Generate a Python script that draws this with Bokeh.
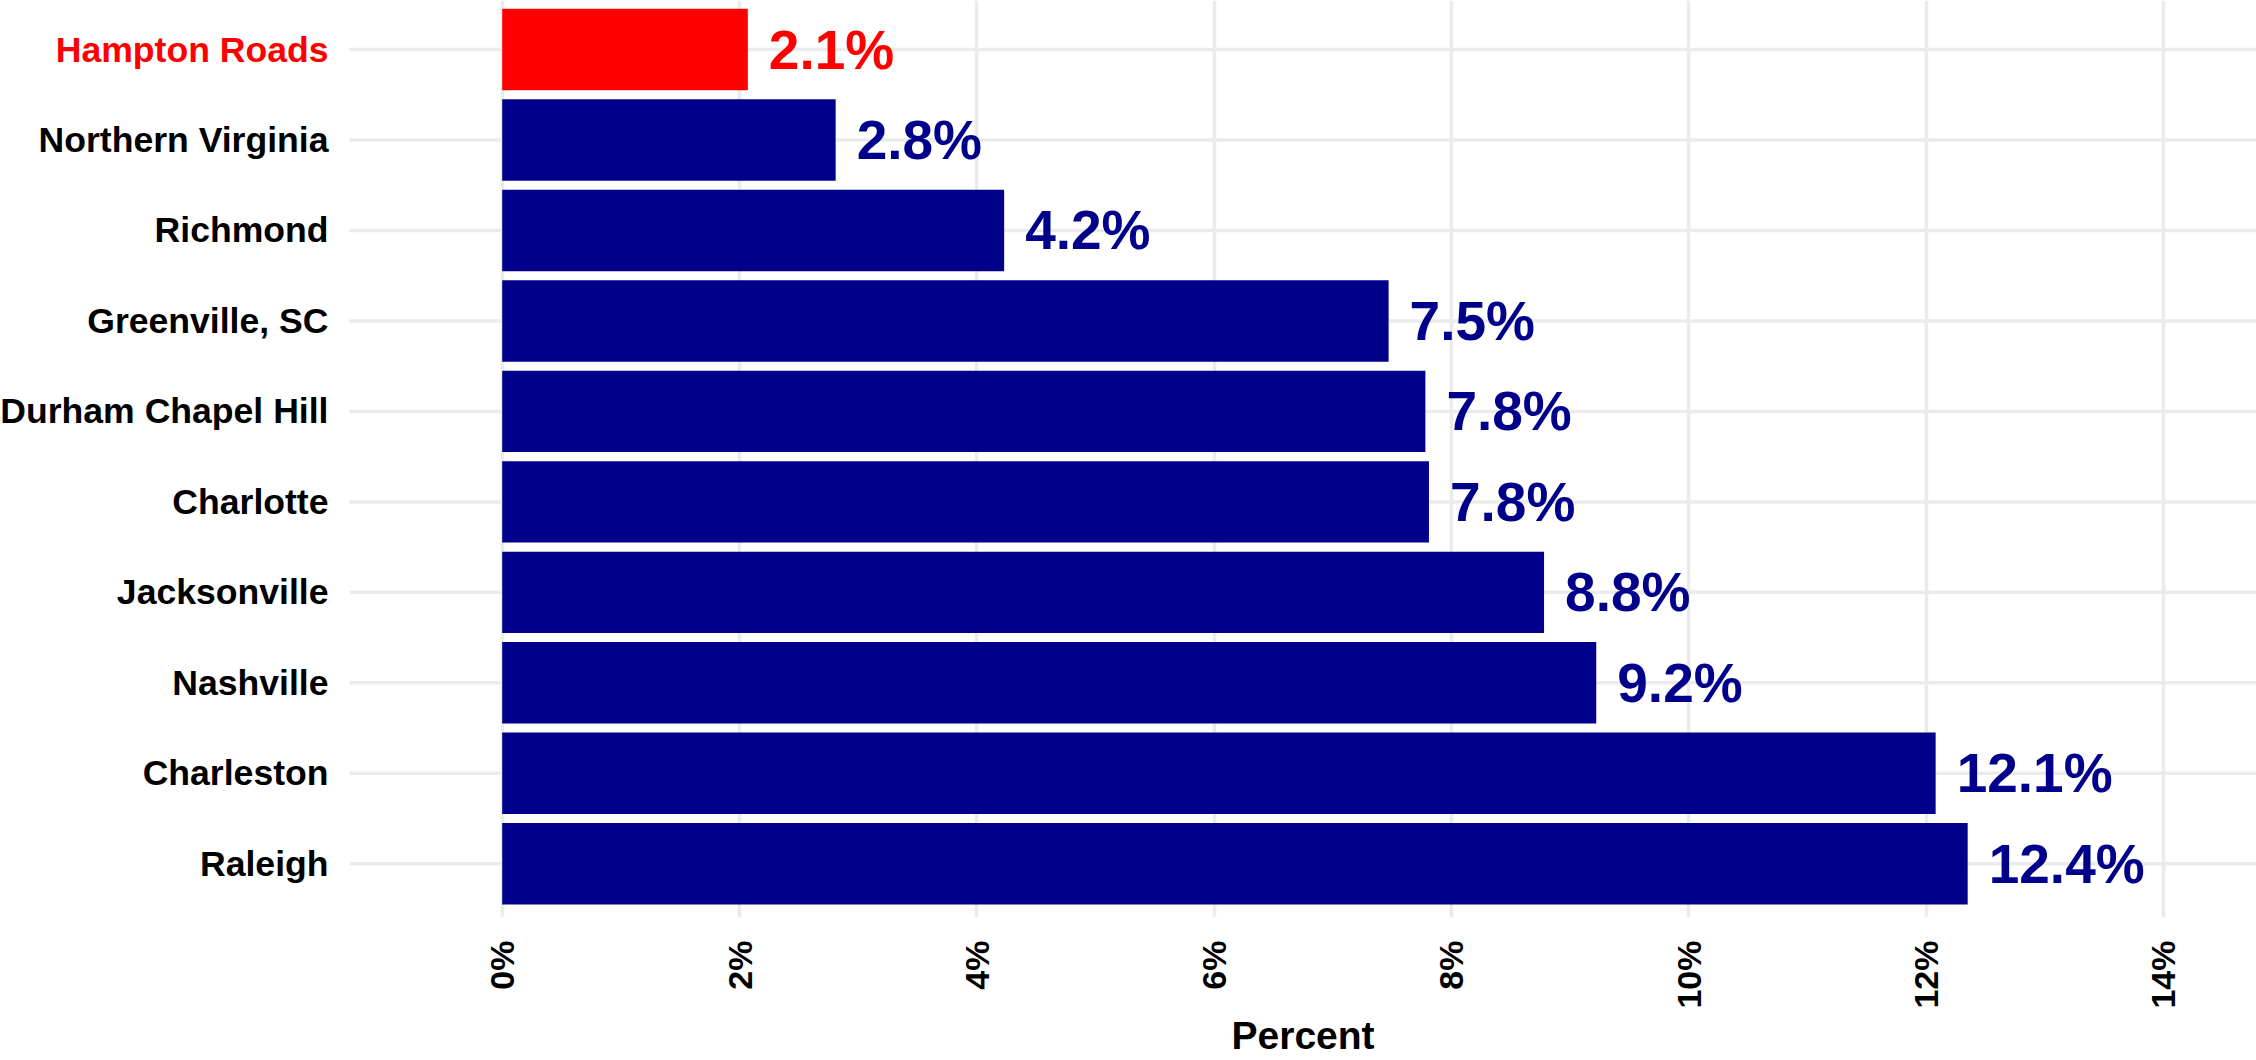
from bokeh.plotting import figure
from bokeh.models import Range1d, FixedTicker, Title, ColumnDataSource
from bokeh.core.properties import value
from bokeh.embed import file_html
from bokeh.resources import INLINE

cities = ["Hampton Roads", "Northern Virginia", "Richmond", "Greenville, SC",
          "Durham Chapel Hill", "Charlotte", "Jacksonville", "Nashville",
          "Charleston", "Raleigh"]
values = [2.07, 2.81, 4.23, 7.47, 7.78, 7.81, 8.78, 9.22, 12.08, 12.35]
value_labels = ["2.1%", "2.8%", "4.2%", "7.5%", "7.8%", "7.8%", "8.8%", "9.2%", "12.1%", "12.4%"]
highlight = "Hampton Roads"
x_ticks = [0, 2, 4, 6, 8, 10, 12, 14]
x_tick_labels = ["0%", "2%", "4%", "6%", "8%", "10%", "12%", "14%"]

RED = "#FF0000"
BLUE = "#00008B"
GRID = "#EBEBEB"
FONT = "Liberation Sans"

n = len(cities)
ypos = [n - 1 - i for i in range(n)]
bar_colors = [RED if c == highlight else BLUE for c in cities]
name_colors = [RED if c == highlight else "black" for c in cities]

# panel geometry (data units): left edge of the bar panel and the visible range
PANEL_X0 = -1.287
X_START, X_END = -4.228, 14.784
Y_START, Y_END = -0.594, n - 1 + 0.542

src = ColumnDataSource(dict(city=cities, val=values, y=ypos, lab=value_labels,
                            bcol=bar_colors, ncol=name_colors,
                            gx0=[PANEL_X0] * n, gx1=[X_END] * n))

p = figure(width=2256, height=1060, output_backend="svg", toolbar_location=None,
           x_range=Range1d(X_START, X_END), y_range=Range1d(Y_START, Y_END),
           min_border_left=0, min_border_right=0, min_border_top=0, min_border_bottom=143)
p.outline_line_color = None
p.background_fill_color = "white"

# horizontal grid lines only across the bar panel
p.segment(x0="gx0", x1="gx1", y0="y", y1="y", source=src, line_color=GRID, line_width=3.5)

p.hbar(y="y", right="val", left=0, height=0.9, color="bcol", source=src, line_color=None)
p.text(x="val", y="y", text="lab", text_color="bcol", source=src,
       x_offset=21, text_baseline="middle", text_align="left",
       text_font=value(FONT), text_font_style="bold", text_font_size="55px")

# category names
p.text(x="gx0", y="y", text="city", text_color="ncol", source=src,
       x_offset=-21, text_baseline="middle", text_align="right",
       text_font=value(FONT), text_font_style="bold", text_font_size="35.6px")

# x axis
p.xaxis.ticker = FixedTicker(ticks=x_ticks)
p.xaxis.major_label_overrides = {t: l for t, l in zip(x_ticks, x_tick_labels)}
p.xaxis.major_label_orientation = 3.14159265 / 2
p.xaxis.major_label_text_font = FONT
p.xaxis.major_label_text_font_style = "bold"
p.xaxis.major_label_text_font_size = "34px"
p.xaxis.major_label_text_color = "black"
p.xaxis.major_label_standoff = 17
p.xaxis.axis_line_color = None
p.xaxis.major_tick_line_color = None
p.xaxis.minor_tick_line_color = None

p.yaxis.visible = False
p.ygrid.visible = False
p.xgrid.grid_line_color = GRID
p.xgrid.grid_line_width = 3.5

p.add_layout(Title(text="Percent", align="left", offset=1231, standoff=0,
                   text_font=FONT, text_font_style="bold", text_font_size="39px",
                   text_color="black"), "below")

open("out.html", "w").write(file_html(p, INLINE))
